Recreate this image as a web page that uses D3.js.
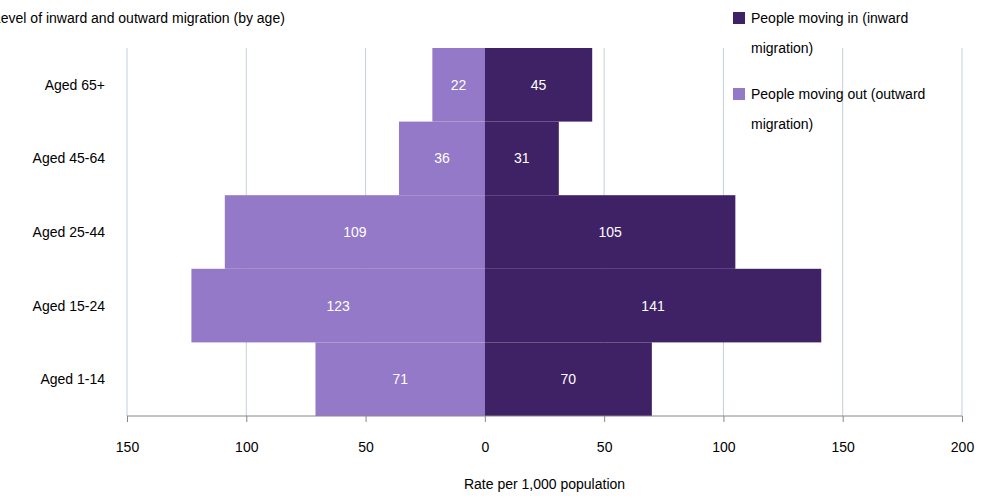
<!DOCTYPE html>
<html><head><meta charset="utf-8">
<script src="https://cdn.jsdelivr.net/npm/d3@7"></script>
<style>body{margin:0;background:#fff;font-family:Arial,"Liberation Sans",sans-serif}</style>
</head><body>
<script>
// chart data
var ages = ["Aged 65+", "Aged 45-64", "Aged 25-44", "Aged 15-24", "Aged 1-14"];
var movingIn = [45, 31, 105, 141, 70];
var movingOut = [22, 36, 109, 123, 71];
var ticks = [150, 100, 50, 0, 50, 100, 150, 200];
var legendLabels = [["People moving in (inward", "migration)"], ["People moving out (outward", "migration)"]];

var width = 993, height = 499;
var dark = "#3f2266", light = "#9479c8";

var svg = d3.select("body").append("svg")
    .attr("width", width).attr("height", height);

var x = d3.scaleLinear().domain([-150, 200]).range([127, 962]);
var y = d3.scaleBand().domain(ages).range([48, 416]).padding(0);

// grid
svg.append("g").selectAll("line").data(d3.range(-150, 201, 50))
  .enter().append("line")
    .attr("x1", d => x(d)).attr("x2", d => x(d))
    .attr("y1", 48).attr("y2", 416)
    .attr("stroke", "#c5cfdd").attr("stroke-width", 1);

// bars
svg.append("g").selectAll("rect").data(ages)
  .enter().append("rect")
    .attr("x", (d, i) => x(-movingOut[i]))
    .attr("width", (d, i) => x(0) - x(-movingOut[i]))
    .attr("y", d => y(d)).attr("height", y.bandwidth())
    .attr("fill", light);
svg.append("g").selectAll("rect").data(ages)
  .enter().append("rect")
    .attr("x", x(0))
    .attr("width", (d, i) => x(movingIn[i]) - x(0))
    .attr("y", d => y(d)).attr("height", y.bandwidth())
    .attr("fill", dark);

// value labels
var lbl = svg.append("g").attr("fill", "#fff").attr("font-size", 14).attr("text-anchor", "middle");
ages.forEach(function (a, i) {
  var cy = y(a) + y.bandwidth() / 2 + 5;
  lbl.append("text").attr("x", x(-movingOut[i] / 2)).attr("y", cy).text(movingOut[i]);
  lbl.append("text").attr("x", x(movingIn[i] / 2)).attr("y", cy).text(movingIn[i]);
});

// x axis
var xAxis = d3.axisBottom(x).tickValues(d3.range(-150, 201, 50))
    .tickFormat((d, i) => ticks[i]).tickSize(6).tickPadding(20);
var gx = svg.append("g").attr("transform", "translate(0,416)").call(xAxis);
gx.selectAll("path,line").attr("stroke", "#888");
gx.select(".domain").attr("d", "M127,0H962");
gx.selectAll("text").attr("font-size", 14).attr("fill", "#000")
  .attr("font-family", "Arial,'Liberation Sans',sans-serif");

// y labels
svg.append("g").selectAll("text").data(ages).enter().append("text")
    .attr("x", 105).attr("y", d => y(d) + y.bandwidth() / 2 + 5)
    .attr("text-anchor", "end").attr("font-size", 14).text(d => d);

// titles
svg.append("text").attr("x", -7).attr("y", 23).attr("font-size", 14)
  .text("Level of inward and outward migration (by age)");
svg.append("text").attr("x", x(25)).attr("y", 489).attr("text-anchor", "middle")
  .attr("font-size", 14).text("Rate per 1,000 population");

// legend
var lg = svg.append("g");
[dark, light].forEach(function (c, i) {
  var top = 13 + i * 76;
  lg.append("rect").attr("x", 733).attr("y", top - 1).attr("width", 12).attr("height", 12).attr("fill", c);
  lg.append("text").attr("x", 751).attr("y", top + 10).attr("font-size", 14).text(legendLabels[i][0]);
  lg.append("text").attr("x", 751).attr("y", top + 40).attr("font-size", 14).text(legendLabels[i][1]);
});
</script>
</body></html>
